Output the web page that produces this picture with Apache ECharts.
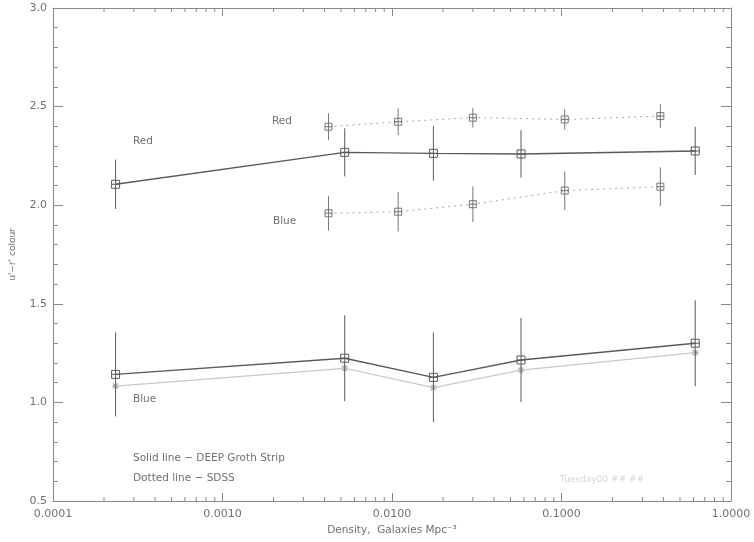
<!DOCTYPE html>
<html>
<head>
<meta charset="utf-8">
<script src="https://cdn.jsdelivr.net/npm/echarts@6/dist/echarts.min.js"></script>
<style>html,body{margin:0;padding:0;background:#fff}#c{width:754px;height:542px}</style>
</head>
<body>
<div id="c"></div>
<script>
// ---- data ----
var deepX       = [0.000234, 0.00526, 0.01755, 0.0577, 0.615];
var deepRed     = [2.106, 2.268, 2.263, 2.260, 2.275];
var deepRedErr  = [0.125, 0.122, 0.138, 0.120, 0.122];
var deepBlue    = [1.142, 1.224, 1.127, 1.215, 1.300];
var deepBlueErr = [0.213, 0.218, 0.228, 0.213, 0.218];
var deepBlueAlt = [1.083, 1.173, 1.075, 1.164, 1.252];
var sdssX       = [0.00422, 0.01087, 0.0300, 0.1045, 0.383];
var sdssRed     = [2.398, 2.423, 2.444, 2.435, 2.452];
var sdssRedErr  = [0.068, 0.068, 0.050, 0.052, 0.060];
var sdssBlue    = [1.959, 1.967, 2.005, 2.074, 2.094];
var sdssBlueErr = [0.088, 0.100, 0.090, 0.097, 0.098];
var xMajorTicks = [0.0001, 0.001, 0.01, 0.1, 1];
var xMinorTicks = [0.0002,0.0003,0.0004,0.0005,0.0006,0.0007,0.0008,0.0009,
                   0.002,0.003,0.004,0.005,0.006,0.007,0.008,0.009,
                   0.02,0.03,0.04,0.05,0.06,0.07,0.08,0.09,
                   0.2,0.3,0.4,0.5,0.6,0.7,0.8,0.9];
var yTicks = [0.5, 1.0, 1.5, 2.0, 2.5, 3.0];

var AX = '#8a8a8a', TX = '#707070', DARK = '#5a5a5a', LIGHT = '#a8a8a8';
var FONT = 'DejaVu Sans';

function zip(xs, ys, es) {
  return xs.map(function (x, i) { return es ? [x, ys[i], es[i]] : [x, ys[i]]; });
}

function errRender(color, sq) {
  return function (params, api) {
    var x = api.value(0), y = api.value(1), e = api.value(2);
    var c = api.coord([x, y]);
    var t = api.coord([x, y + e]);
    var b = api.coord([x, y - e]);
    var h = sq / 2;
    var st = { stroke: color, lineWidth: 1, fill: null };
    return {
      type: 'group',
      children: [
        { type: 'line', shape: { x1: c[0], y1: t[1], x2: c[0], y2: b[1] }, style: st },
        { type: 'rect', shape: { x: c[0] - h, y: c[1] - h, width: sq, height: sq }, style: { stroke: color, lineWidth: 1, fill: 'rgba(255,255,255,0)' } },
        { type: 'line', shape: { x1: c[0] - h, y1: c[1], x2: c[0] + h, y2: c[1] }, style: st }
      ]
    };
  };
}

function starRender(params, api) {
  var c = api.coord([api.value(0), api.value(1)]);
  var s = 3.5;
  var st = { stroke: LIGHT, lineWidth: 1.2 };
  return {
    type: 'group',
    children: [
      { type: 'line', shape: { x1: c[0] - s, y1: c[1], x2: c[0] + s, y2: c[1] }, style: st },
      { type: 'line', shape: { x1: c[0], y1: c[1] - s, x2: c[0], y2: c[1] + s }, style: st },
      { type: 'line', shape: { x1: c[0] - 2.5, y1: c[1] - 2.5, x2: c[0] + 2.5, y2: c[1] + 2.5 }, style: st },
      { type: 'line', shape: { x1: c[0] - 2.5, y1: c[1] + 2.5, x2: c[0] + 2.5, y2: c[1] - 2.5 }, style: st }
    ]
  };
}

function minorRender(params, api) {
  var cs = params.coordSys;
  var x = api.coord([api.value(0), 1])[0];
  var top = cs.y, bot = cs.y + cs.height;
  var st = { stroke: AX, lineWidth: 1 };
  return {
    type: 'group',
    children: [
      { type: 'line', shape: { x1: x, y1: bot, x2: x, y2: bot - 4 }, style: st },
      { type: 'line', shape: { x1: x, y1: top, x2: x, y2: top + 4 }, style: st }
    ]
  };
}

var chart = echarts.init(document.getElementById('c'), null, { renderer: 'canvas' });

var xCommon = {
  type: 'log', logBase: 10, min: xMajorTicks[0], max: xMajorTicks[xMajorTicks.length - 1],
  axisLine: { show: true, lineStyle: { color: AX, width: 1 } },
  axisTick: { show: true, inside: true, length: 8, lineStyle: { color: AX } },
  splitLine: { show: false }, minorTick: { show: false }
};
var yCommon = {
  type: 'value', min: yTicks[0], max: yTicks[yTicks.length - 1], interval: 0.5,
  axisLine: { show: true, lineStyle: { color: AX, width: 1 } },
  axisTick: { show: true, inside: true, length: 10, lineStyle: { color: AX } },
  minorTick: { show: true, splitNumber: 5, length: 5, lineStyle: { color: AX } },
  splitLine: { show: false }
};

chart.setOption({
  animation: false,
  backgroundColor: '#fff',
  grid: { left: 50, right: 23, top: 8, bottom: 41, containLabel: false },
  textStyle: { fontFamily: FONT },
  xAxis: [
    Object.assign({}, xCommon, {
      position: 'bottom',
      name: 'Density,  Galaxies Mpc\u207B\u00B3', nameLocation: 'middle', nameGap: 24,
      nameTextStyle: { color: TX, fontSize: 10.5, fontFamily: FONT },
      axisLabel: { color: TX, fontSize: 11, fontFamily: FONT, margin: 8,
        formatter: function (v) { return Number(v).toFixed(4); } }
    }),
    Object.assign({}, xCommon, { position: 'top', axisLabel: { show: false } })
  ],
  yAxis: [
    Object.assign({}, yCommon, {
      position: 'left',
      name: "u'\u2212r' colour", nameLocation: 'middle', nameGap: 36, nameRotate: 90,
      nameTextStyle: { color: TX, fontSize: 9, fontFamily: FONT },
      axisLabel: { color: TX, fontSize: 11, fontFamily: FONT, margin: 6,
        formatter: function (v) { return Number(v).toFixed(1); } }
    }),
    Object.assign({}, yCommon, { position: 'right', axisLabel: { show: false } })
  ],
  series: [
    { type: 'custom', renderItem: minorRender, data: xMinorTicks.map(function (v) { return [v]; }),
      encode: { x: 0 }, clip: false, silent: true, z: 1 },
    // DEEP solid lines
    { type: 'line', data: zip(deepX, deepRed), symbol: 'none', lineStyle: { color: DARK, width: 1.4 }, z: 3 },
    { type: 'line', data: zip(deepX, deepBlue), symbol: 'none', lineStyle: { color: DARK, width: 1.4 }, z: 3 },
    { type: 'line', data: zip(deepX, deepBlueAlt), symbol: 'none', lineStyle: { color: '#c8c8c8', width: 1.2 }, z: 2 },
    { type: 'custom', renderItem: starRender, data: zip(deepX, deepBlueAlt), encode: { x: 0, y: 1 }, z: 2 },
    // SDSS dotted lines
    { type: 'line', data: zip(sdssX, sdssRed), symbol: 'none', lineStyle: { color: LIGHT, width: 1, type: [2, 4] }, z: 2 },
    { type: 'line', data: zip(sdssX, sdssBlue), symbol: 'none', lineStyle: { color: LIGHT, width: 1, type: [2, 4] }, z: 2 },
    // error bars + square markers
    { type: 'custom', renderItem: errRender(DARK, 8), data: zip(deepX, deepRed, deepRedErr), encode: { x: 0, y: 1 }, z: 4 },
    { type: 'custom', renderItem: errRender(DARK, 8), data: zip(deepX, deepBlue, deepBlueErr), encode: { x: 0, y: 1 }, z: 4 },
    { type: 'custom', renderItem: errRender('#777', 7), data: zip(sdssX, sdssRed, sdssRedErr), encode: { x: 0, y: 1 }, z: 4 },
    { type: 'custom', renderItem: errRender('#777', 7), data: zip(sdssX, sdssBlue, sdssBlueErr), encode: { x: 0, y: 1 }, z: 4 }
  ],
  graphic: [
    { type: 'text', left: 133, top: 136, style: { text: 'Red', fill: TX, font: '10.5px DejaVu Sans' } },
    { type: 'text', left: 272, top: 116, style: { text: 'Red', fill: TX, font: '10.5px DejaVu Sans' } },
    { type: 'text', left: 273, top: 216, style: { text: 'Blue', fill: TX, font: '10.5px DejaVu Sans' } },
    { type: 'text', left: 133, top: 394, style: { text: 'Blue', fill: TX, font: '10.5px DejaVu Sans' } },
    { type: 'text', left: 133, top: 453, style: { text: 'Solid line \u2212 DEEP Groth Strip', fill: TX, font: '10.5px DejaVu Sans' } },
    { type: 'text', left: 133, top: 473, style: { text: 'Dotted line \u2212 SDSS', fill: TX, font: '10.5px DejaVu Sans' } },
    { type: 'text', left: 560, top: 475, style: { text: 'Tuesday00 ## ##', fill: '#d4d4d4', font: '9px DejaVu Sans' } }
  ]
});
</script>
</body>
</html>
